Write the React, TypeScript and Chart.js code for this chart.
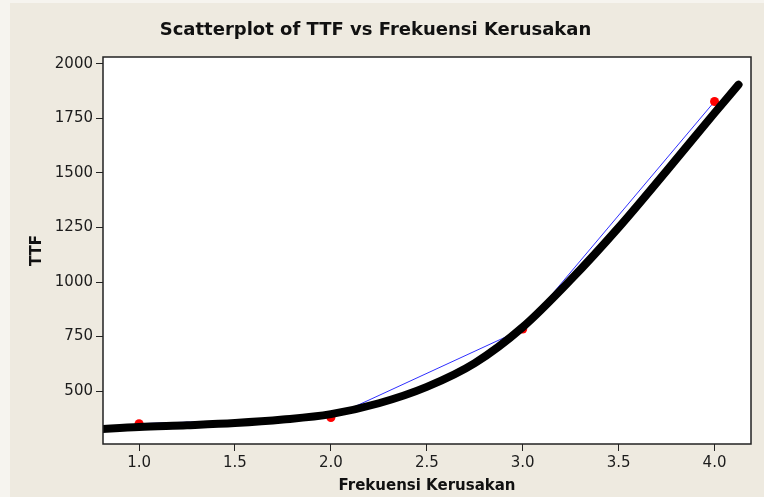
import React, { useEffect, useRef } from "react";
import { Chart, registerables } from "chart.js";

Chart.register(...registerables);

// ---- data ----
const chartTitle = "Scatterplot of TTF vs Frekuensi Kerusakan";
const xAxisTitle = "Frekuensi Kerusakan";
const yAxisTitle = "TTF";

// observed points (red markers, joined by the thin blue line)
const frekuensi = [1, 2, 3, 4];
const ttf = [350, 378, 784, 1828];

// thick black fitted curve, read along its path
const fitX = [0.78, 1.0, 1.25, 1.5, 1.75, 2.0, 2.25, 2.5, 2.75, 3.0, 3.25, 3.5, 3.75, 4.0, 4.125];
const fitY = [324, 335, 343, 353, 369, 394, 444, 519, 628, 793, 1010, 1250, 1510, 1775, 1905];

const xTicks = [1.0, 1.5, 2.0, 2.5, 3.0, 3.5, 4.0];
const yTicks = [500, 750, 1000, 1250, 1500, 1750, 2000];

const FONT = "'DejaVu Sans', 'Noto Sans', sans-serif";
const TEXT = "#1c1c1c";
const AXIS = "#222222";

const plotFrame = {
  id: "plotFrame",
  beforeDatasetsDraw(chart: any) {
    const { ctx, chartArea: a } = chart;
    ctx.save();
    ctx.fillStyle = "#ffffff";
    ctx.fillRect(a.left, a.top, a.right - a.left, a.bottom - a.top);
    ctx.restore();
  },
  afterDraw(chart: any) {
    const { ctx, chartArea: a } = chart;
    ctx.save();
    ctx.strokeStyle = AXIS;
    ctx.lineWidth = 1.5;
    ctx.strokeRect(a.left, a.top, a.right - a.left, a.bottom - a.top);
    ctx.restore();
  },
};

export default function App() {
  const ref = useRef<HTMLCanvasElement | null>(null);

  useEffect(() => {
    if (!ref.current) return;
    const chart = new Chart(ref.current, {
      type: "scatter",
      data: {
        datasets: [
          {
            label: "Fit",
            data: fitX.map((x, i) => ({ x, y: fitY[i] })),
            showLine: true,
            borderColor: "#000000",
            borderWidth: 8,
            borderCapStyle: "round",
            borderJoinStyle: "round",
            cubicInterpolationMode: "monotone",
            pointRadius: 0,
            clip: 0,
            order: 0,
          } as any,
          {
            label: "TTF points",
            data: frekuensi.map((x, i) => ({ x, y: ttf[i] })),
            showLine: false,
            pointRadius: 4.5,
            pointBackgroundColor: "#ff0000",
            pointBorderWidth: 0,
            order: 1,
          } as any,
          {
            label: "TTF line",
            data: frekuensi.map((x, i) => ({ x, y: ttf[i] })),
            showLine: true,
            borderColor: "#2f2fff",
            borderWidth: 1,
            pointRadius: 0,
            order: 2,
          } as any,
        ],
      },
      options: {
        animation: false,
        responsive: false,
        events: [],
        layout: { padding: { left: 0, right: 13, top: 0, bottom: 0 } },
        plugins: {
          legend: { display: false },
          tooltip: { enabled: false },
          title: {
            display: true,
            text: chartTitle,
            color: "#111111",
            font: { family: FONT, size: 18, weight: "bold" },
            padding: { top: 20, bottom: 15.4 },
          },
        },
        scales: {
          x: {
            type: "linear",
            min: 0.812,
            max: 4.19,
            afterBuildTicks: (s: any) => {
              s.ticks = xTicks.map((v) => ({ value: v }));
            },
            afterFit: (s: any) => {
              s.height = 53;
            },
            ticks: {
              autoSkip: false,
              maxRotation: 0,
              padding: 3,
              color: TEXT,
              font: { family: FONT, size: 15 },
              callback: (v: any) => Number(v).toFixed(1),
            },
            grid: { drawOnChartArea: false, drawTicks: true, tickLength: 7, color: AXIS, lineWidth: 1 },
            border: { display: false },
            title: {
              display: true,
              text: xAxisTitle,
              color: "#111111",
              font: { family: FONT, size: 15, weight: "bold" },
              padding: { top: 0, bottom: 2 },
            },
          },
          y: {
            type: "linear",
            min: 257,
            max: 2032,
            afterBuildTicks: (s: any) => {
              s.ticks = yTicks.map((v) => ({ value: v }));
            },
            afterFit: (s: any) => {
              s.width = 103;
            },
            ticks: {
              autoSkip: false,
              padding: 3,
              color: TEXT,
              font: { family: FONT, size: 15 },
              callback: (v: any) => String(v),
            },
            grid: { drawOnChartArea: false, drawTicks: true, tickLength: 7, color: AXIS, lineWidth: 1 },
            border: { display: false },
            title: {
              display: true,
              text: yAxisTitle,
              color: "#111111",
              font: { family: FONT, size: 15, weight: "bold" },
              padding: { top: 28, bottom: 0 },
            },
          },
        },
      } as any,
      plugins: [plotFrame],
    });
    return () => chart.destroy();
  }, []);

  return (
    <div
      style={{
        position: "fixed",
        left: 0,
        top: 0,
        width: 764,
        height: 497,
        background: "#f6f4ef",
        overflow: "hidden",
      }}
    >
      <div
        style={{
          position: "absolute",
          left: 10,
          top: 3,
          right: 0,
          bottom: 0,
          background: "#eeeae0",
        }}
      />
      <canvas
        ref={ref}
        width={764}
        height={497}
        style={{ position: "absolute", left: 0, top: 0, width: 764, height: 497 }}
      />
    </div>
  );
}
